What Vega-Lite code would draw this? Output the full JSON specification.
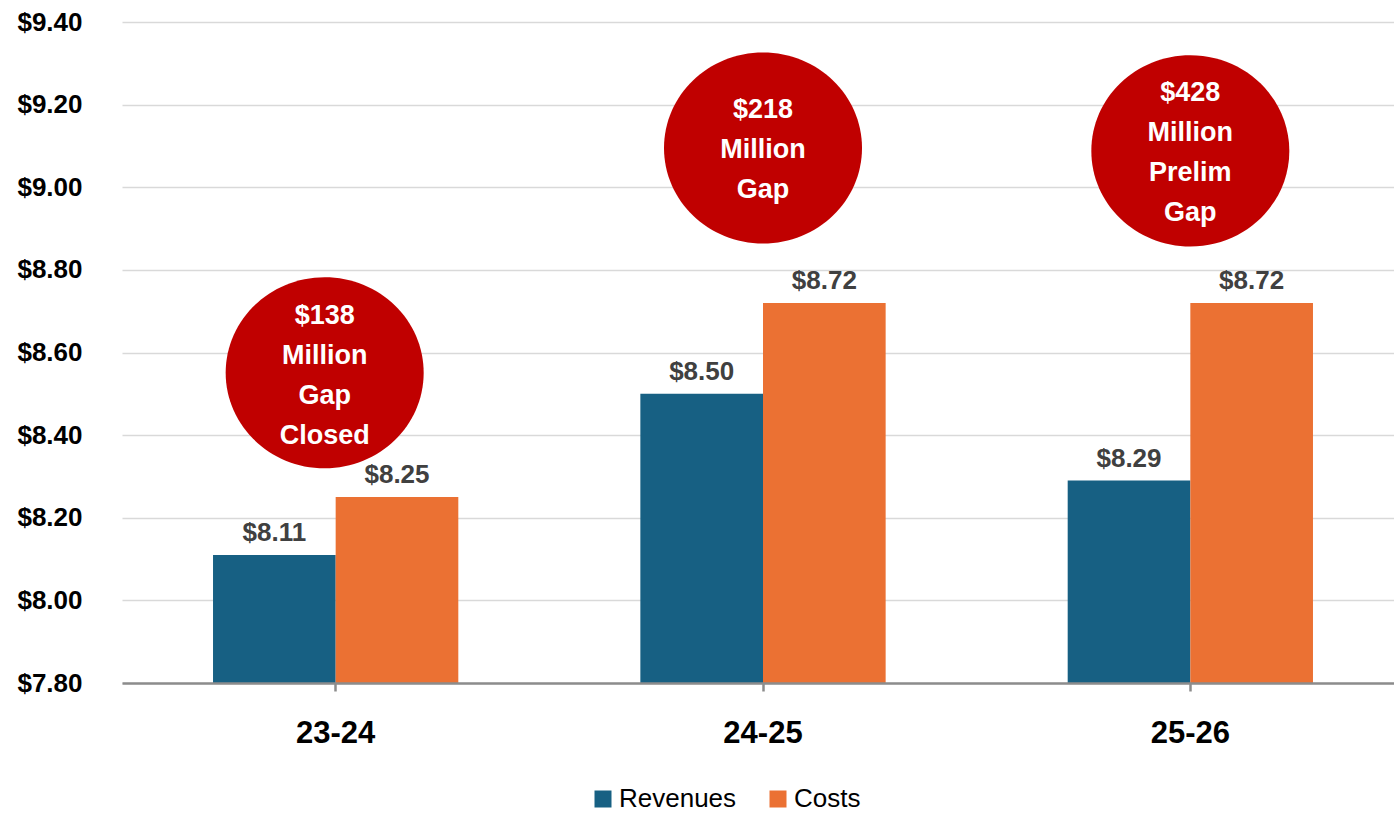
{
  "$schema": "https://vega.github.io/schema/vega-lite/v6.json",
  "autosize": {"type": "none"},
  "padding": {"left": 122, "top": 22, "right": 0, "bottom": 130},
  "width": 1282,
  "height": 661,
  "background": "white",
  "config": {
    "view": {"stroke": null},
    "font": "Liberation Sans"
  },
  "datasets": {
    "bars": [
      {"year": "23-24", "series": "Revenues", "value": 8.11},
      {"year": "23-24", "series": "Costs", "value": 8.25},
      {"year": "24-25", "series": "Revenues", "value": 8.50},
      {"year": "24-25", "series": "Costs", "value": 8.72},
      {"year": "25-26", "series": "Revenues", "value": 8.29},
      {"year": "25-26", "series": "Costs", "value": 8.72}
    ],
    "bubbles": [
      {"year": "23-24", "cy": 8.551, "label": "$138\nMillion\nGap\nClosed"},
      {"year": "24-25", "cy": 9.095, "label": "$218\nMillion\nGap"},
      {"year": "25-26", "cy": 9.088, "label": "$428\nMillion\nPrelim\nGap"}
    ]
  },
  "encoding": {
    "x": {
      "field": "year", "type": "nominal", "sort": ["23-24", "24-25", "25-26"],
      "scale": {"paddingInner": 0.426, "paddingOuter": 0.213},
      "axis": {
        "title": null, "labelAngle": 0, "labelFontSize": 31, "labelFontWeight": "bold",
        "labelColor": "#000000", "labelPadding": 27,
        "domainColor": "#8c8c8c", "domainWidth": 2.5,
        "tickColor": "#8c8c8c", "tickWidth": 2.5, "tickSize": 8,
        "grid": false, "zindex": 1
      }
    }
  },
  "layer": [
    {
      "data": {"name": "bars"},
      "mark": {"type": "bar"},
      "encoding": {
        "xOffset": {"field": "series", "type": "nominal", "sort": ["Revenues", "Costs"], "scale": {"paddingInner": 0, "paddingOuter": 0}},
        "y": {
          "field": "value", "type": "quantitative",
          "scale": {"domain": [7.8, 9.4], "zero": false, "nice": false},
          "axis": {
            "title": null, "values": [7.8, 8.0, 8.2, 8.4, 8.6, 8.8, 9.0, 9.2, 9.4],
            "format": "$.2f", "labelFontSize": 26, "labelFontWeight": "bold", "labelColor": "#000000",
            "labelPadding": 40, "domain": false, "ticks": false,
            "grid": true, "gridColor": "#d9d9d9", "gridWidth": 1.5
          }
        },
        "y2": {"datum": 7.8},
        "color": {
          "field": "series", "type": "nominal", "sort": ["Revenues", "Costs"],
          "scale": {"domain": ["Revenues", "Costs"], "range": ["#176083", "#EB7133"]},
          "legend": {
            "title": null, "orient": "none", "direction": "horizontal",
            "legendX": 468, "legendY": 764,
            "symbolType": "square", "symbolSize": 289, "symbolOpacity": 1,
            "labelFontSize": 26, "labelColor": "#000000", "labelOffset": 3, "columnPadding": 28
          }
        }
      }
    },
    {
      "data": {"name": "bars"},
      "mark": {"type": "text", "baseline": "alphabetic", "dy": -14, "fontSize": 26, "fontWeight": "bold", "color": "#404040"},
      "encoding": {
        "xOffset": {"field": "series", "type": "nominal", "sort": ["Revenues", "Costs"], "scale": {"paddingInner": 0, "paddingOuter": 0}},
        "y": {"field": "value", "type": "quantitative"},
        "text": {"field": "value", "type": "quantitative", "format": "$.2f"}
      }
    },
    {
      "data": {"name": "bubbles"},
      "transform": [{"filter": "datum.year == '23-24'"}],
      "mark": {"type": "point", "filled": true, "opacity": 1, "color": "#C00000", "strokeWidth": 0, "xOffset": -11,
               "shape": "M-1,0A1,0.965,0,1,1,1,0A1,0.965,0,1,1,-1,0Z", "size": 39204},
      "encoding": {"y": {"field": "cy", "type": "quantitative"}}
    },
    {
      "data": {"name": "bubbles"},
      "transform": [{"filter": "datum.year != '23-24'"}],
      "mark": {"type": "point", "filled": true, "opacity": 1, "color": "#C00000", "strokeWidth": 0,
               "shape": "M-1,0A1,0.965,0,1,1,1,0A1,0.965,0,1,1,-1,0Z", "size": 39204},
      "encoding": {"y": {"field": "cy", "type": "quantitative"}}
    },
    {
      "data": {"name": "bubbles"},
      "transform": [{"filter": "datum.year == '23-24'"}],
      "mark": {"type": "text", "lineBreak": "\n", "lineHeight": 40, "fontSize": 27, "fontWeight": "bold", "color": "#ffffff", "baseline": "middle", "dx": -11, "dy": -57},
      "encoding": {"y": {"field": "cy", "type": "quantitative"}, "text": {"field": "label"}}
    },
    {
      "data": {"name": "bubbles"},
      "transform": [{"filter": "datum.year == '24-25'"}],
      "mark": {"type": "text", "lineBreak": "\n", "lineHeight": 40, "fontSize": 27, "fontWeight": "bold", "color": "#ffffff", "baseline": "middle", "dy": -38},
      "encoding": {"y": {"field": "cy", "type": "quantitative"}, "text": {"field": "label"}}
    },
    {
      "data": {"name": "bubbles"},
      "transform": [{"filter": "datum.year == '25-26'"}],
      "mark": {"type": "text", "lineBreak": "\n", "lineHeight": 40, "fontSize": 27, "fontWeight": "bold", "color": "#ffffff", "baseline": "middle", "dy": -58},
      "encoding": {"y": {"field": "cy", "type": "quantitative"}, "text": {"field": "label"}}
    }
  ]
}
